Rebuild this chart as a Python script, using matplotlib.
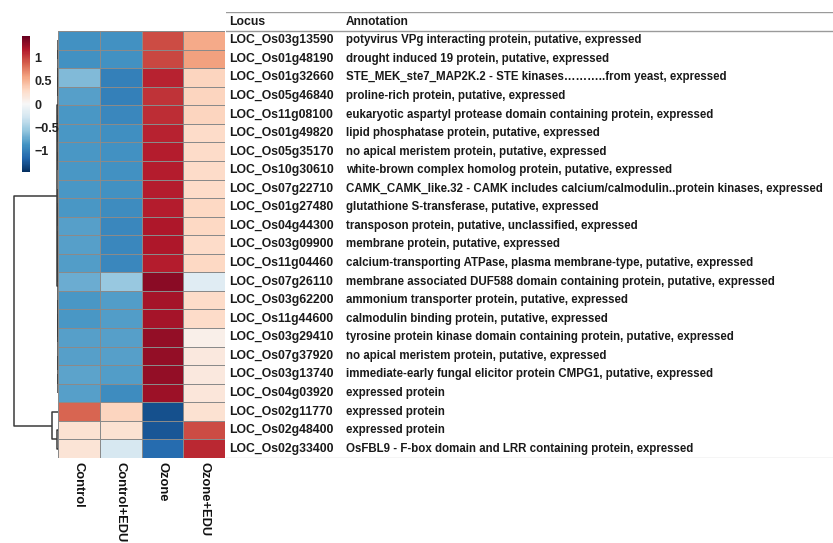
import numpy as np
import matplotlib
matplotlib.use("Agg")
import matplotlib.pyplot as plt

plt.rcParams['font.family'] = ['Liberation Sans', 'DejaVu Sans']

conditions = ['Control', 'Control+EDU', 'Ozone', 'Ozone+EDU']

loci = ['LOC_Os03g13590', 'LOC_Os01g48190', 'LOC_Os01g32660', 'LOC_Os05g46840',
        'LOC_Os11g08100', 'LOC_Os01g49820', 'LOC_Os05g35170', 'LOC_Os10g30610',
        'LOC_Os07g22710', 'LOC_Os01g27480', 'LOC_Os04g44300', 'LOC_Os03g09900',
        'LOC_Os11g04460', 'LOC_Os07g26110', 'LOC_Os03g62200', 'LOC_Os11g44600',
        'LOC_Os03g29410', 'LOC_Os07g37920', 'LOC_Os03g13740', 'LOC_Os04g03920',
        'LOC_Os02g11770', 'LOC_Os02g48400', 'LOC_Os02g33400']

annotations = [
    'potyvirus VPg interacting protein, putative, expressed',
    'drought induced 19 protein, putative, expressed',
    'STE_MEK_ste7_MAP2K.2 - STE kinases\u2026\u2026\u2026..from yeast, expressed',
    'proline-rich protein, putative, expressed',
    'eukaryotic aspartyl protease domain containing protein, expressed',
    'lipid phosphatase protein, putative, expressed',
    'no apical meristem protein, putative, expressed',
    'white-brown complex homolog protein, putative, expressed',
    'CAMK_CAMK_like.32 - CAMK includes calcium/calmodulin..protein kinases, expressed',
    'glutathione S-transferase, putative, expressed',
    'transposon protein, putative, unclassified, expressed',
    'membrane protein, putative, expressed',
    'calcium-transporting ATPase, plasma membrane-type, putative, expressed',
    'membrane associated DUF588 domain containing protein, putative, expressed',
    'ammonium transporter protein, putative, expressed',
    'calmodulin binding protein, putative, expressed',
    'tyrosine protein kinase domain containing protein, putative, expressed',
    'no apical meristem protein, putative, expressed',
    'immediate-early fungal elicitor protein CMPG1, putative, expressed',
    'expressed protein',
    'expressed protein',
    'expressed protein',
    'OsFBL9 - F-box domain and LRR containing protein, expressed',
]

# z-scores per condition (Control, Control+EDU, Ozone, Ozone+EDU)
control = [-0.88, -0.88, -0.65, -0.8, -0.85, -0.85, -0.85, -0.85, -0.85, -0.85, -0.8, -0.8,
           -0.82, -0.72, -0.85, -0.85, -0.8, -0.8, -0.78, -0.8, 0.85, 0.22, 0.2]
control_edu = [-0.88, -0.88, -1.0, -1.0, -0.95, -0.9, -0.88, -0.88, -0.88, -0.92, -0.95, -0.95,
               -0.95, -0.55, -0.82, -0.82, -0.8, -0.8, -0.82, -0.92, 0.32, 0.22, -0.25]
ozone = [0.95, 0.98, 1.12, 1.05, 1.08, 1.12, 1.15, 1.15, 1.15, 1.15, 1.18, 1.18,
         1.15, 1.32, 1.22, 1.22, 1.28, 1.28, 1.28, 1.25, -1.28, -1.25, -1.12]
ozone_edu = [0.55, 0.6, 0.32, 0.32, 0.32, 0.28, 0.28, 0.28, 0.28, 0.3, 0.3, 0.28,
             0.3, -0.18, 0.28, 0.28, 0.08, 0.15, 0.15, 0.18, 0.22, 0.95, 1.1]

# row dendrogram: (left, right, height), leaves are row indices
def balanced(leaves, h):
    if len(leaves) == 1:
        return leaves[0]
    mid = len(leaves) // 2
    return (balanced(leaves[:mid], h * 0.5), balanced(leaves[mid:], h * 0.5), h)

top_cluster = (balanced(list(range(0, 8)), 0.006), balanced(list(range(8, 20)), 0.006), 0.015)
bottom_cluster = (20, (21, 22, 0.03), 0.14)
tree = (top_cluster, bottom_cluster, 1.0)

W, H = 833, 543
fig = plt.figure(figsize=(W / 100, H / 100), dpi=100)

def px_axes(x0, y0, x1, y1):
    return fig.add_axes([x0 / W, 1 - y1 / H, (x1 - x0) / W, (y1 - y0) / H])

data = np.array([control, control_edu, ozone, ozone_edu]).T
nrow = len(loci)
vmin, vmax = -1.46, 1.46

# heatmap
ax = px_axes(58, 31, 225, 458)
mesh = ax.pcolormesh(data, cmap='RdBu_r', vmin=vmin, vmax=vmax,
                     edgecolors='#8a8a8a', linewidth=0.6)
ax.set_xlim(0, 4)
ax.set_ylim(nrow, 0)
ax.axis('off')

for i, c in enumerate(conditions):
    fig.text((58 + (i + 0.5) * (225 - 58) / 4) / W, 1 - 462 / H, c,
             rotation=270, ha='center', va='top', fontsize=9.3,
             fontweight='bold', color='#111111')

# dendrogram
dax = px_axes(10, 31, 58, 458)
def draw(node):
    if isinstance(node, int):
        return node + 0.5, 0.0
    l, r, h = node
    yl, hl = draw(l)
    yr, hr = draw(r)
    dax.plot([hl, h, h, hr], [yl, yl, yr, yr], color='#3a3a3a', lw=1.1,
             solid_capstyle='butt')
    return (yl + yr) / 2, h
draw(tree)
dax.set_ylim(nrow, 0)
dax.set_xlim(1.1, 0)
dax.axis('off')

# colorbar
cax = px_axes(22, 36, 30, 172)
cb = fig.colorbar(mesh, cax=cax)
cb.outline.set_visible(False)
cb.set_ticks([-1, -0.5, 0, 0.5, 1])
cb.set_ticklabels(['\u22121', '\u22120.5', '0', '0.5', '1'])
cax.tick_params(length=0, pad=3, labelsize=9)
for t in cax.get_yticklabels():
    t.set_fontweight('bold')
    t.set_color('#222222')

# annotation table
tax = px_axes(226, 12.4, 833, 458)
tax.set_xlim(226, 833)
tax.set_ylim(nrow, -1)
tax.axis('off')
tax.axhline(-1, color='#9a9a9a', lw=1)
tax.axhline(0, color='#9a9a9a', lw=1)
tax.axhline(nrow, color='#d0d0d0', lw=1)
txt = dict(va='center', ha='left', fontweight='bold', color='#1a1a1a')
tax.text(229, -0.5, 'Locus', fontsize=8.8, **txt)
tax.text(346, -0.5, 'Annotation', fontsize=8.6, **txt)
for i, (loc, ann) in enumerate(zip(loci, annotations)):
    tax.text(229, i + 0.5, loc, fontsize=8.8, **txt)
    tax.text(346, i + 0.5, ann, fontsize=8.3, **txt)

fig.savefig('out.png', dpi=100)
